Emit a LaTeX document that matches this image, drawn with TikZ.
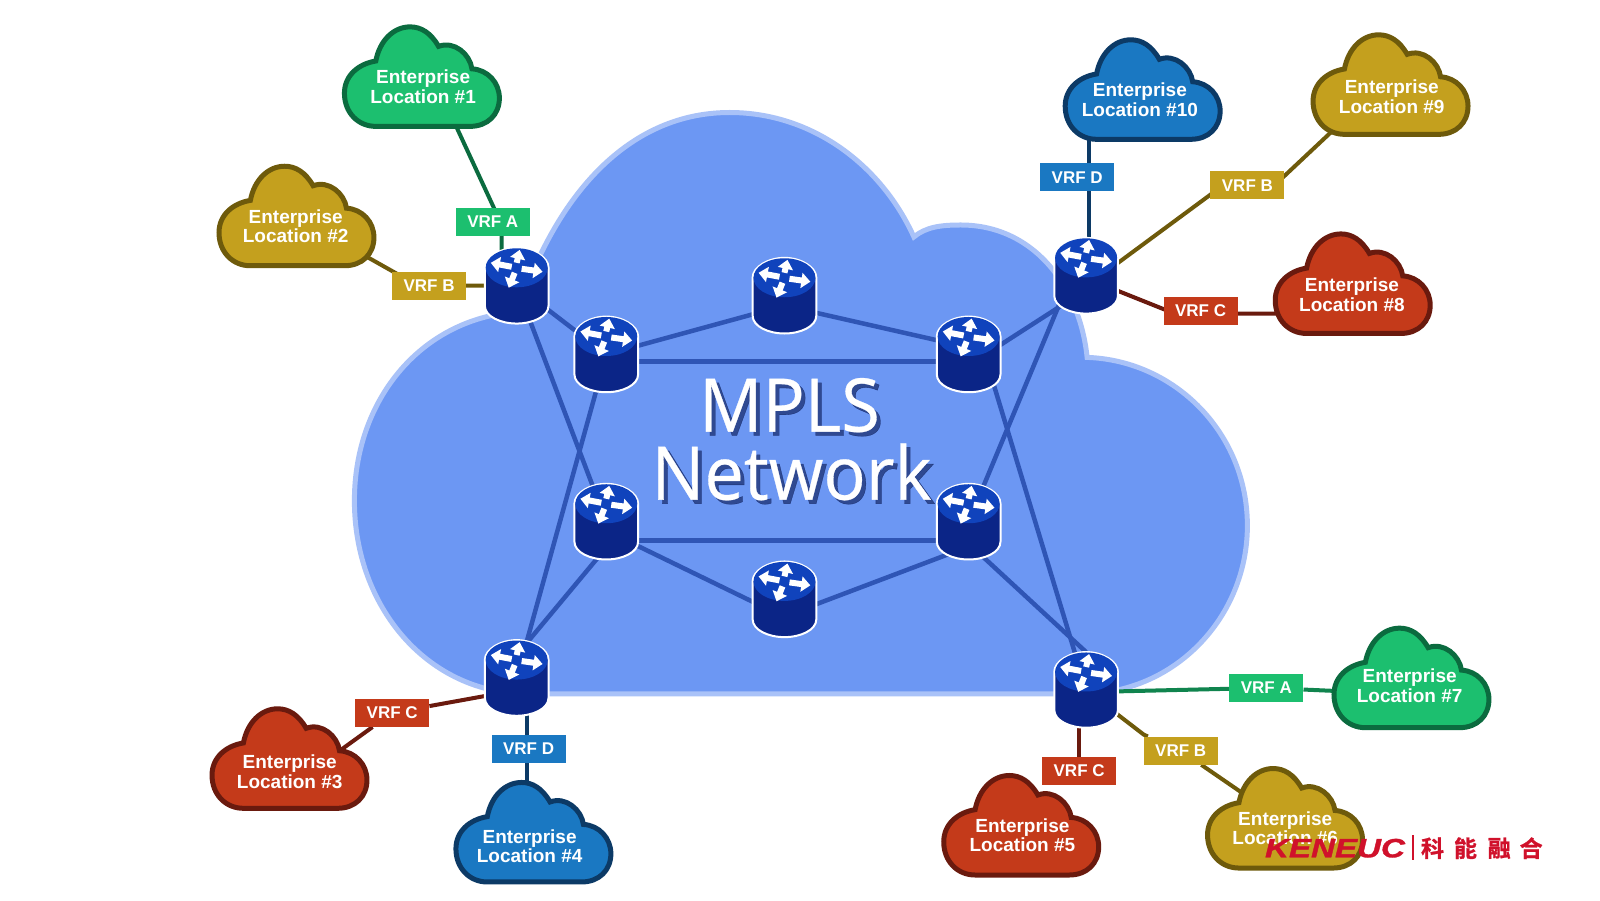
\documentclass[tikz,border=0pt]{standalone}
\usepackage{fontspec}
\setmainfont{Liberation Sans}[BoldItalicFeatures={FakeBold=1.2}]
\newfontfamily\bigfont{Open Sans}[FakeBold=.4]
\newfontfamily\cjkfont{Noto Sans CJK SC}[BoldFont=* Bold,BoldFeatures={FakeBold=1}]
\usetikzlibrary{arrows.meta,calc}
\pgfdeclarelayer{cloudlayer}
\pgfdeclarelayer{linklayer}
\pgfsetlayers{cloudlayer,linklayer,main}
\definecolor{netfill}{HTML}{6C97F3}
\definecolor{netedge}{HTML}{A9C2F8}
\definecolor{linkblue}{HTML}{2F55B5}
\definecolor{rtop}{HTML}{1043BC}
\definecolor{rbody}{HTML}{0B2587}
\definecolor{gf}{HTML}{1CBF6F}\definecolor{gs}{HTML}{0B6B3F}
\definecolor{yf}{HTML}{C4A01E}\definecolor{ys}{HTML}{6E5A0B}
\definecolor{rf}{HTML}{C43A1A}\definecolor{rs}{HTML}{6A1A0E}
\definecolor{bf}{HTML}{1A78C2}\definecolor{bs}{HTML}{0C3A66}
\definecolor{wm}{HTML}{D0112B}
\tikzset{
  x=.9955pt,y=-.9955pt,
  meshlink/.style={draw=linkblue,line width=4.5pt},
  feed/.style={line width=4pt},
  cloudtext/.style={align=center,font=\bfseries\fontsize{19}{19.5}\selectfont,text=white,inner sep=0pt},
  vrf/.style={fill=#1,text=white,font=\bfseries\fontsize{17}{17}\selectfont,minimum width=74pt,minimum height=28pt,inner sep=0pt},
  bigtext/.style={font=\bigfont\fontsize{74}{66}\selectfont,inner sep=0pt,xscale=.95},
  router/.pic={
    \draw[white,line width=2pt,fill=rbody] (-32,-18) -- (-32,20) .. controls (-32,31) and (-16,38) .. (0,38) .. controls (16,38) and (32,31) .. (32,20) -- (32,-18) .. controls (32,-29) and (16,-38) .. (0,-38) .. controls (-16,-38) and (-32,-29) .. (-32,-18) -- cycle;
    \fill[rtop] (0,-18) ellipse [x radius=31pt,y radius=19.5pt];
    \begin{scope}[white,line width=6pt,-{Triangle[length=9pt,width=15pt]}]
      \draw (5,-17) -- (26,-14);
      \draw (-5,-19) -- (-26,-23);
      \draw (0,-23) -- (3,-36);
      \draw (-2,-13) -- (-8,2);
    \end{scope}
  }
}
\newcommand{\ecloud}[7]{%
  \begin{scope}[shift={(#2,#3)}]
    \draw[draw=#5,fill=#4,line width=5pt,xscale=.985,yscale=.98,shift={(1,1)}]
      (32,102) -- (128,102) .. controls (146,102) and (158,90) .. (158,73)
      .. controls (158,57) and (146,44) .. (130,43)
      .. controls (128,28) and (112,14) .. (96,20)
      .. controls (88,6) and (78,0) .. (67,0)
      .. controls (50,0) and (36,14) .. (32,35)
      .. controls (14,38) and (0,50) .. (0,68)
      .. controls (0,88) and (14,102) .. (32,102) -- cycle;
    \coordinate (#1) at (80,61);
    \node[cloudtext] (#1t) at ($(80,61)+(#7)$) {Enterprise\\Location \##6};
  \end{scope}}
\begin{document}
\begin{tikzpicture}
\useasboundingbox (0,0) rectangle (1607.2,904.07);
% network cloud
\begin{pgfonlayer}{cloudlayer}
\fill[white] (0,0) rectangle (1607.2,904.07);
\draw[draw=netedge,fill=netfill,line width=5pt]
  (523,313) .. controls (425,318) and (356,400) .. (356,503)
  .. controls (356,610) and (430,697) .. (530,697)
  -- (1087,697)
  .. controls (1180,697) and (1253,620) .. (1253,528)
  .. controls (1253,435) and (1180,362) .. (1092,359)
  .. controls (1085,290) and (1040,226) .. (965,226)
  .. controls (945,226) and (930,228) .. (918,238)
  .. controls (885,165) and (815,113) .. (733,113)
  .. controls (645,113) and (580,175) .. (540,262)
  -- cycle;
\end{pgfonlayer}
% routers
\foreach \n/\x/\y in {R1/519/287,R2/609/356,R3/788/297,R4/973/356,R5/1091/277,R6/609/524,R7/973/524,R8/788/602,R9/519/681,R10/1091/693}{
  \coordinate (\n) at (\x,\y);
  \pic at (\x,\y) {router};
}
% customer clouds
\ecloud{c1}{345}{26}{gf}{gs}{1}{0,0}
\ecloud{c2}{219}{166}{yf}{ys}{2}{-2,0}
\ecloud{c3}{212}{711}{rf}{rs}{3}{-1,3}
\ecloud{c4}{457}{785}{bf}{bs}{4}{-5,4}
\ecloud{c5}{947}{778}{rf}{rs}{5}{0,0}
\ecloud{c6}{1212}{771}{yf}{ys}{6}{-1,0}
\ecloud{c7}{1339}{630}{gf}{gs}{7}{-3,-2}
\ecloud{c8}{1280}{234}{rf}{rs}{8}{-2,1}
\ecloud{c9}{1318}{34}{yf}{ys}{9}{0,2}
\ecloud{c10}{1069}{39}{bf}{bs}{10}{-4,0}
% VRF labels
\node[vrf=gf] (v1) at (495,223) {VRF A};
\node[vrf=yf] (v2) at (431,287) {VRF B};
\node[vrf=rf] (v3) at (394,716) {VRF C};
\node[vrf=bf] (v4) at (531,752) {VRF D};
\node[vrf=rf] (v5) at (1084,774) {VRF C};
\node[vrf=yf] (v6) at (1186,754) {VRF B};
\node[vrf=gf] (v7) at (1272,691) {VRF A};
\node[vrf=rf] (v8) at (1206,312) {VRF C};
\node[vrf=yf] (v9) at (1253,186) {VRF B};
\node[vrf=bf] (v10) at (1082,178) {VRF D};
% connectors
\begin{pgfonlayer}{linklayer}
\draw[meshlink] (R1) -- (R2);
\draw[meshlink] (R1) -- (R6);
\draw[meshlink] (R2) -- (R9);
\draw[meshlink] (R2) -- ([shift={(0,10)}]R3.center);
\draw[meshlink] ([shift={(0,10)}]R3.center) -- ([shift={(0,-7)}]R4.center);
\draw[meshlink] ([shift={(0,7)}]R2.center) -- ([shift={(0,7)}]R4.center);
\draw[meshlink] ([shift={(0,11)}]R4.center) -- ([shift={(0,14)}]R5.center);
\draw[meshlink] ([shift={(-15,0)}]R5.center) -- (R7);
\draw[meshlink] ([shift={(16,0)}]R4.center) -- (R10);
\draw[meshlink] ([shift={(0,19)}]R6.center) -- ([shift={(0,19)}]R7.center);
\draw[meshlink] ([shift={(0,9)}]R6.center) -- ([shift={(0,18)}]R8.center);
\draw[meshlink] ([shift={(0,17)}]R8.center) -- ([shift={(0,25)}]R7.center);
\draw[meshlink] ([shift={(0,26)}]R6.center) -- ([shift={(0,-23)}]R9.center);
\draw[meshlink] ([shift={(0,22)}]R7.center) -- ([shift={(0,-38)}]R10.center);
\draw[feed,gs] ([shift={(30,33)}]c1.center) -- ([shift={(4,-8)}]v1.center) -- ([shift={(9,13)}]v1.center) -- ([shift={(-15,-17)}]R1.center);
\draw[feed,ys] ([shift={(66,29)}]c2.center) -- ([shift={(-11,0)}]v2.center) -- (R1);
\draw[feed,bs] ([shift={(-55,30)}]c10.center) -- ([shift={(3,-20)}]R5.center);
\draw[feed,ys] ([shift={(-58,35)}]c9.center) -- ([shift={(22,5)}]v9.center) -- ([shift={(-31,5)}]v9.center) -- ([shift={(24,-7)}]R5.center);
\draw[feed,rs] ([shift={(9,6)}]R5.center) -- ([shift={(-36,-1)}]v8.center) -- ([shift={(0,3)}]v8.center) -- ([shift={(-70,20)}]c8.center);
\draw[feed,rs] ([shift={(-9,14)}]R9.center) -- (v3) -- ([shift={(48,-17)}]c3.center);
\draw[feed,bs] ([shift={(10,19)}]R9.center) -- ([shift={(-8,-56)}]c4.center);
\draw[feed,rs] ([shift={(-7,20)}]R10.center) -- ([shift={(57,-61)}]c5.center);
\draw[feed,ys] ([shift={(19,15)}]R10.center) -- ([shift={(-37,-16)}]v6.center) -- (v6) -- ([shift={(-42,-34)}]c6.center);
\draw[feed,gs!70!gf] ([shift={(10,2)}]R10.center) -- (v7) -- ([shift={(-79,3)}]c7.center);
\end{pgfonlayer}
% title
\node[bigtext,text=rbody!60!black,opacity=.6] at (797,411) {MPLS};
\node[bigtext,text=rbody!60!black,opacity=.6] at (799,478) {Network};
\node[bigtext,text=white] (t1) at (793,407) {MPLS};
\node[bigtext,text=white] (t2) at (795,474) {Network};
% watermark
\node[inner sep=0pt,text=wm,font=\bfseries\itshape\fontsize{26.5}{27}\selectfont,xscale=1.25] (w1) at (1341,852) {KENEUC};
\fill[wm] (1418.5,839) rectangle (1420,864);
\foreach \c/\x in {科/1439,能/1472,融/1506,合/1538}{
  \node[inner sep=0pt,text=wm,font=\cjkfont\bfseries\fontsize{23}{23}\selectfont] at (\x,852) {\c};
}
\end{tikzpicture}
\end{document}
